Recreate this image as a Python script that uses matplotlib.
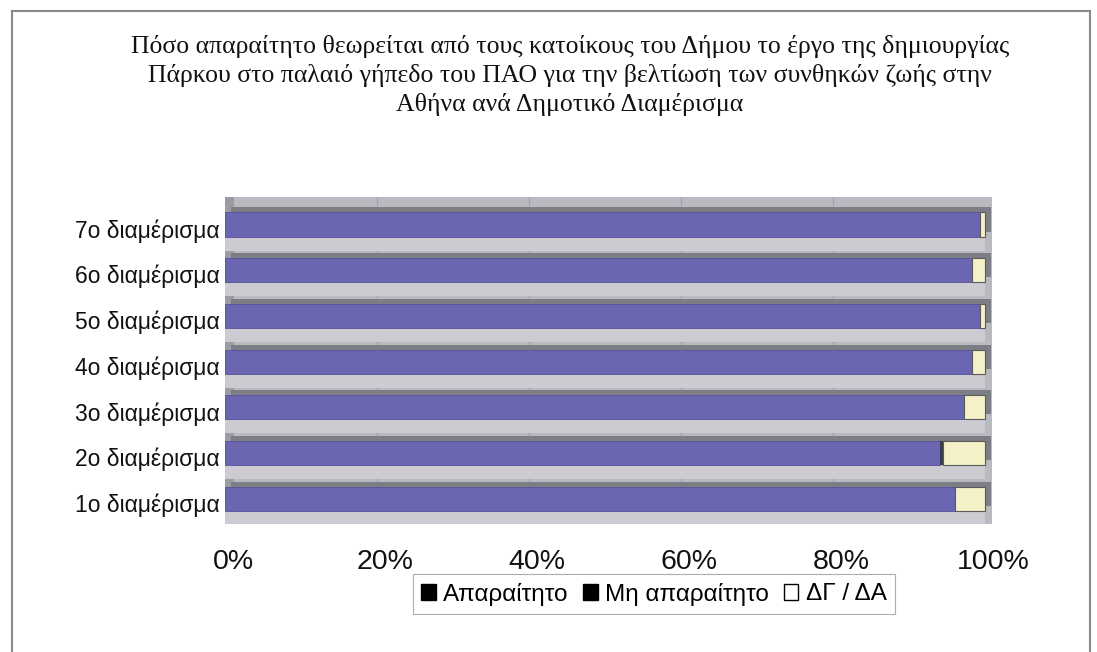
import matplotlib
matplotlib.use("Agg")
import matplotlib.pyplot as plt
from matplotlib.patches import Patch, Rectangle
from matplotlib.transforms import offset_copy, ScaledTranslation
import numpy as np

categories = ["1ο διαμέρισμα", "2ο διαμέρισμα", "3ο διαμέρισμα", "4ο διαμέρισμα",
              "5ο διαμέρισμα", "6ο διαμέρισμα", "7ο διαμέρισμα"]
necessary = [96.0, 94.0, 97.2, 98.3, 99.3, 98.3, 99.3]
not_necessary = [0.0, 0.4, 0.0, 0.0, 0.0, 0.0, 0.0]
dk_na = [4.0, 5.6, 2.8, 1.7, 0.7, 1.7, 0.7]
series_names = ["Απαραίτητο", "Μη απαραίτητο", "ΔΓ / ΔΑ"]
xticks = [0, 20, 40, 60, 80, 100]
xticklabels = ["0%", "20%", "40%", "60%", "80%", "100%"]
title_lines = ["Πόσο απαραίτητο θεωρείται από τους κατοίκους του Δήμου το έργο της δημιουργίας",
               "Πάρκου στο παλαιό γήπεδο του ΠΑΟ για την βελτίωση των συνθηκών ζωής στην",
               "Αθήνα ανά Δημοτικό Διαμέρισμα"]

W, H = 1097, 652
fig = plt.figure(figsize=(W / 100, H / 100), dpi=100)
fig.patch.set_facecolor("white")

# outer frame
fig.add_artist(Rectangle((12 / W, -0.01), (1090 - 12) / W, (H - 11) / H + 0.01,
                         transform=fig.transFigure, fill=False, edgecolor="#8a8a8a", lw=1.5))

# title
for i, line in enumerate(title_lines):
    fig.text(570 / W, 1 - (47 + 28.5 * i) / H, line, ha="center", va="center",
             fontsize=18.5, family="Liberation Serif", color="#111111")

# axes region in pixels
x0, x1 = 225, 992
y0, y1 = 197, 524
ax = fig.add_axes([x0 / W, 1 - y1 / H, (x1 - x0) / W, (y1 - y0) / H])
ax.set_facecolor("#b9b9c0")
ax.set_xlim(0, 100.9)
ax.set_ylim(-0.55, 6.6)

y = np.arange(len(categories))
h = 0.53
nec = np.array(necessary)
nn = np.array(not_necessary)
dk = np.array(dk_na)
tot = nec + nn + dk

# grid lines on back wall
for xv in xticks[1:-1]:
    ax.axvline(xv, color="#a4a4ac", lw=1, zorder=0)

# light strips below each bar (floor shading)
ax.barh(y - 0.42, tot, height=0.3, left=0, color="#cbcbd1", zorder=1, lw=0)

# 3D depth of the bars
depth = offset_copy(ax.transData, fig=fig, x=6, y=5, units="dots")
ax.barh(y, tot, height=h, color="#7d7d86", transform=depth, zorder=2, lw=0)

# front faces
ax.barh(y, nec, height=h, color="#6a66b2", edgecolor="#55529a", lw=0.6, zorder=3,
        label=series_names[0])
ax.barh(y, nn, height=h, left=nec, color="#3a3a48", lw=0, zorder=3,
        label=series_names[1])
ax.barh(y, dk, height=h, left=nec + nn, color="#f4f0c8", edgecolor="#5a5a5a", lw=0.8,
        zorder=3, label=series_names[2])

# left dark side strip
ax.axvspan(0, 1.2, color="#9c9ca4", zorder=0.5, lw=0)

for s in ax.spines.values():
    s.set_visible(False)

ax.set_yticks(y)
ax.set_yticklabels(categories, fontsize=16.5, family="Liberation Sans", color="#111111")
ax.set_xticks(xticks)
ax.set_xticklabels(xticklabels, fontsize=20.5, family="Liberation Sans", color="#111111")
ax.tick_params(axis="both", length=0)
ax.tick_params(axis="x", pad=18)
ax.tick_params(axis="y", pad=4)
for lab in ax.get_xticklabels():
    lab.set_transform(lab.get_transform() + ScaledTranslation(8 / 100, 0, fig.dpi_scale_trans))
for lab in ax.get_yticklabels():
    lab.set_transform(lab.get_transform() + ScaledTranslation(0, -4 / 100, fig.dpi_scale_trans))

handles = [Patch(facecolor="black", edgecolor="black"),
           Patch(facecolor="black", edgecolor="black"),
           Patch(facecolor="white", edgecolor="black")]
leg = fig.legend(handles, series_names, loc="center", bbox_to_anchor=(654 / W, 1 - 594 / H),
                 ncol=3, frameon=True, fancybox=False,
                 prop={"family": "Liberation Sans", "size": 17.5},
                 handlelength=0.6, handleheight=0.6, handletextpad=0.3, columnspacing=0.6,
                 borderpad=0.35)
leg.get_frame().set_edgecolor("#999999")
leg.get_frame().set_linewidth(0.8)

fig.savefig("out.png", dpi=100)
